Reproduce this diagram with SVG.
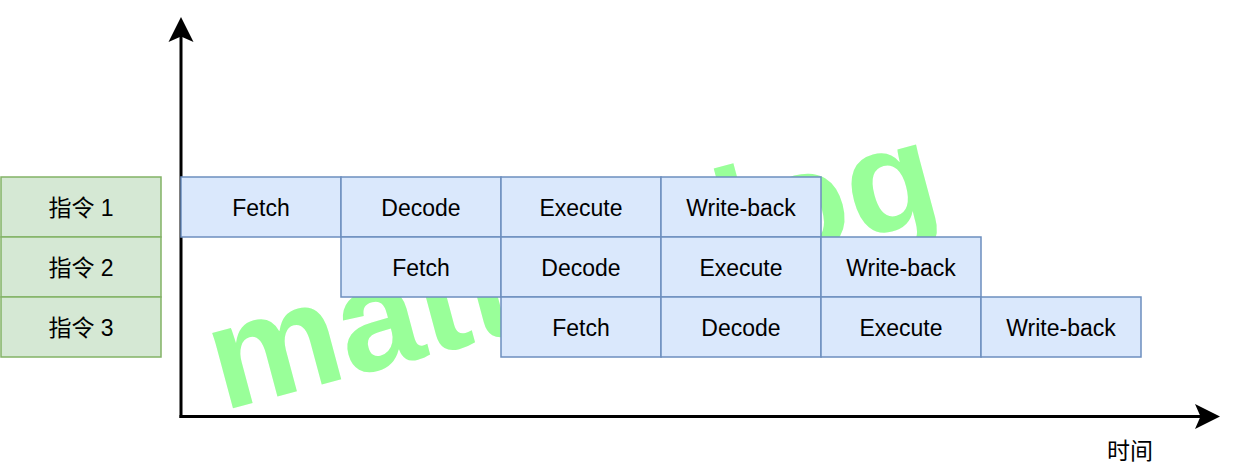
<svg xmlns="http://www.w3.org/2000/svg" width="1240" height="474" viewBox="0 0 1240 474">
<style>
.bg{fill:#ffffff}
.wm{fill:#99FF99;font-family:"Liberation Sans",Arial,sans-serif;font-weight:bold;font-size:148px}
.stage rect{fill:#dae8fc;stroke:#6c8ebf;stroke-width:1.5}
.lbl rect{fill:#d5e8d4;stroke:#82b366;stroke-width:1.5}
.t{font-family:"Liberation Sans","Noto Sans CJK SC",Arial,sans-serif;font-size:23px;fill:#000000;text-anchor:middle}
.axis{stroke:#000000;stroke-width:3;fill:none}
.head{fill:#000000;stroke:none}
</style>
<rect class="bg" x="0" y="0" width="1240" height="474"/>
<g id="watermark">
<text class="wm" transform="translate(223,411) rotate(-15)" x="0" y="0">matts blog</text>
</g>
<g id="connectors">
<line class="axis" x1="181" y1="418" x2="181" y2="36"/>
<path class="head" d="M181,17 L193.5,42 L181,36.5 L168.5,42 Z"/>
<line class="axis" x1="179.5" y1="416.5" x2="1202" y2="416.5"/>
<path class="head" d="M1220,416.5 L1195,429 L1200.5,416.5 L1195,404 Z"/>
</g>
<g id="label-1" class="lbl"><rect x="1" y="177" width="160" height="60"/><text class="t" x="81" y="215.5">指令 1</text></g>
<g id="label-2" class="lbl"><rect x="1" y="237" width="160" height="60"/><text class="t" x="81" y="275.5">指令 2</text></g>
<g id="label-3" class="lbl"><rect x="1" y="297" width="160" height="60"/><text class="t" x="81" y="335.5">指令 3</text></g>
<g id="i1-fetch" class="stage"><rect x="181" y="177" width="160" height="60"/><text class="t" x="261" y="215.5">Fetch</text></g>
<g id="i1-decode" class="stage"><rect x="341" y="177" width="160" height="60"/><text class="t" x="421" y="215.5">Decode</text></g>
<g id="i1-execute" class="stage"><rect x="501" y="177" width="160" height="60"/><text class="t" x="581" y="215.5">Execute</text></g>
<g id="i1-writeback" class="stage"><rect x="661" y="177" width="160" height="60"/><text class="t" x="741" y="215.5">Write-back</text></g>
<g id="i2-fetch" class="stage"><rect x="341" y="237" width="160" height="60"/><text class="t" x="421" y="275.5">Fetch</text></g>
<g id="i2-decode" class="stage"><rect x="501" y="237" width="160" height="60"/><text class="t" x="581" y="275.5">Decode</text></g>
<g id="i2-execute" class="stage"><rect x="661" y="237" width="160" height="60"/><text class="t" x="741" y="275.5">Execute</text></g>
<g id="i2-writeback" class="stage"><rect x="821" y="237" width="160" height="60"/><text class="t" x="901" y="275.5">Write-back</text></g>
<g id="i3-fetch" class="stage"><rect x="501" y="297" width="160" height="60"/><text class="t" x="581" y="335.5">Fetch</text></g>
<g id="i3-decode" class="stage"><rect x="661" y="297" width="160" height="60"/><text class="t" x="741" y="335.5">Decode</text></g>
<g id="i3-execute" class="stage"><rect x="821" y="297" width="160" height="60"/><text class="t" x="901" y="335.5">Execute</text></g>
<g id="i3-writeback" class="stage"><rect x="981" y="297" width="160" height="60"/><text class="t" x="1061" y="335.5">Write-back</text></g>
<g id="time-label"><text class="t" x="1130" y="459">时间</text></g>
</svg>
